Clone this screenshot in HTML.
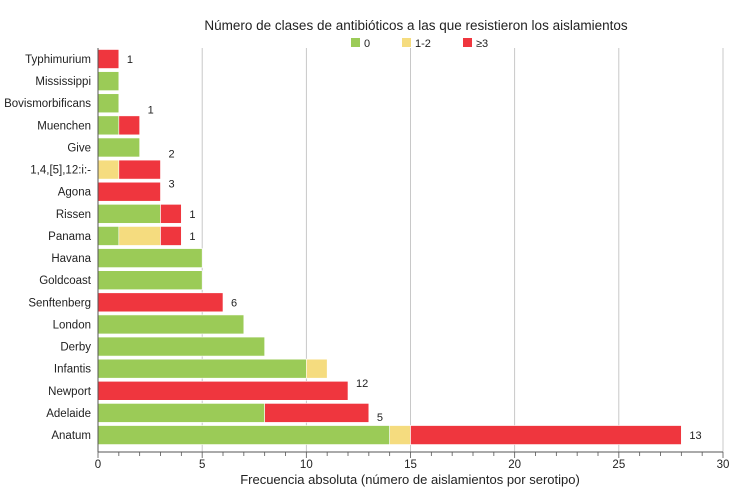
<!DOCTYPE html>
<html><head><meta charset="utf-8"><style>
body{margin:0;background:#fff;font-family:"Liberation Sans",sans-serif;}
svg text{font-family:"Liberation Sans",sans-serif;fill:#222;}
</style></head><body>
<svg id="c" width="736" height="490">
<text x="416" y="30" font-size="13.5" text-anchor="middle">Número de clases de antibióticos a las que resistieron los aislamientos</text>
<g>
<rect x="351" y="38" width="9" height="9" fill="#9bcb57"/><text x="364" y="47" font-size="11">0</text>
<rect x="402" y="38" width="9" height="9" fill="#f5dc7f"/><text x="415" y="47" font-size="11">1-2</text>
<rect x="463" y="38" width="9" height="9" fill="#ef363e"/><text x="476" y="47" font-size="11">≥3</text>
</g>
<g id="grid"></g><g id="bars"></g><g id="axis"></g>
<text x="410" y="484" font-size="13" text-anchor="middle">Frecuencia absoluta (número de aislamientos por serotipo)</text>
</svg>
<script>
const categories=["Typhimurium","Mississippi","Bovismorbificans","Muenchen","Give","1,4,[5],12:i:-","Agona","Rissen","Panama","Havana","Goldcoast","Senftenberg","London","Derby","Infantis","Newport","Adelaide","Anatum"];
const res0=[0,1,1,1,2,0,0,3,1,5,5,0,7,8,10,0,8,14];
const res12=[0,0,0,0,0,1,0,0,2,0,0,0,0,0,1,0,0,1];
const res3=[1,0,0,1,0,2,3,1,1,0,0,6,0,0,0,12,5,13];
const barLabels=["1","","","1","","2","3","1","1","","","6","","","","12","5","13"];
const labelDy=[0,0,0,-16,0,-16,-8,0,0,0,0,0,0,0,0,-8,4,0];
const xTicks=[0,5,10,15,20,25,30];
const NS="http://www.w3.org/2000/svg";
const x0=98,x1=723,xmax=30;
const xs=v=>x0+(x1-x0)*v/xmax;
const yc=i=>59+i*22.12;
const bh=19;
function mk(t,a,p){const e=document.createElementNS(NS,t);for(const k in a)e.setAttribute(k,a[k]);p.appendChild(e);return e;}
const grid=document.getElementById('grid'),bars=document.getElementById('bars'),axis=document.getElementById('axis');
xTicks.forEach(t=>{
 if(t>0){const g=mk('line',{x1:xs(t),x2:xs(t),y1:48,y2:452,stroke:'#bbb','stroke-width':0.8},grid);
 
 }
 const tl=mk('text',{x:xs(t),y:468,'font-size':11.5,'text-anchor':'middle'},axis);tl.textContent=t;
 
 
});
for(let v=0;v<=xmax;v++){const tk=mk('line',{x1:xs(v),x2:xs(v),y1:452,y2:v%5?456:458,stroke:'#555','stroke-width':0.8},axis);
 
 }
const ax=mk('line',{x1:x0,x2:x1,y1:452,y2:452,stroke:'#555','stroke-width':1},axis);


const ay=mk('line',{x1:x0,x2:x0,y1:48,y2:452,stroke:'#555','stroke-width':1},axis);


const cols=['#9bcb57','#f5dc7f','#ef363e'];
categories.forEach((c,i)=>{
 const y=yc(i);
 const cl=mk('text',{x:91,y:y+4,'font-size':11.5,'text-anchor':'end'},axis);cl.textContent=c;
 
 
 const vals=[res0[i],res12[i],res3[i]];let acc=0;
 vals.forEach((v,k)=>{if(!v)return;
  const r=mk('rect',{x:xs(acc),y:y-bh/2,width:xs(acc+v)-xs(acc),height:bh,fill:cols[k],stroke:'#fff','stroke-width':0.6},bars);
  
  
  acc+=v;});
 if(barLabels[i]){const t=mk('text',{x:xs(acc)+8,y:y+4+labelDy[i],'font-size':11},bars);t.textContent=barLabels[i];
  
  }
});
</script>
</body></html>
